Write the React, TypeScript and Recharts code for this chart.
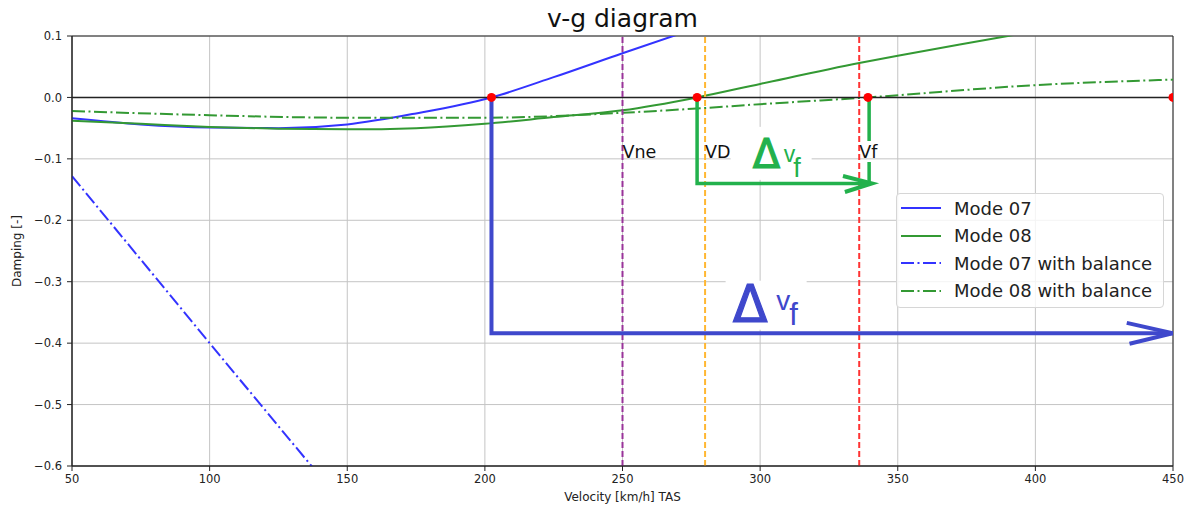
import {
  CartesianGrid,
  Line,
  LineChart,
  ReferenceArea,
  ReferenceDot,
  ReferenceLine,
  XAxis,
  YAxis,
} from "recharts";

const FONT = "'DejaVu Sans', sans-serif";
const PAINT_FONT = "'Liberation Sans', sans-serif";

// ── data ──────────────────────────────────────────────────────────────────────

const xTicks = [50, 100, 150, 200, 250, 300, 350, 400, 450];
const yTicks = [-0.6, -0.5, -0.4, -0.3, -0.2, -0.1, 0, 0.1];

const mode07X = [50, 75, 100, 125, 150, 175, 202.4, 225, 250, 275];
const mode07Y = [-0.034, -0.044, -0.049, -0.05, -0.044, -0.026, 0, 0.033, 0.072, 0.11];

const mode08X = [50, 75, 100, 125, 150, 175, 200, 225, 250, 277.1, 300, 336, 350, 390, 420];
const mode08Y = [-0.038, -0.043, -0.048, -0.051, -0.052, -0.05, -0.043, -0.032, -0.021, 0, 0.022, 0.056, 0.068, 0.1, 0.125];

const mode07BalX = [50, 100, 137, 145];
const mode07BalY = [-0.128, -0.4, -0.6, -0.645];

const mode08BalX = [50, 100, 150, 200, 250, 277, 300, 339.2, 400, 450];
const mode08BalY = [-0.022, -0.029, -0.033, -0.033, -0.025, -0.018, -0.011, 0, 0.02, 0.029];

// speed limits (km/h TAS)
const limitNames = ["Vne", "VD", "Vf"];
const limitSpeeds = [250, 280, 336];
const limitColors = ["#993399", "#ffb733", "#ff3333"];

// flutter onsets (damping = 0)
const onsetSpeeds = [202.4, 277.1, 339.2, 450];

// hand-drawn Δv_f arrows
const blueArrowX = [202.4, 202.4, 450];
const blueArrowY = [-0.005, -0.384, -0.384];
const blueHeadX = [433.2, 450, 434.2];
const blueHeadY = [-0.367, -0.384, -0.401];
const greenArrowX = [277.1, 277.1, 340];
const greenArrowY = [-0.004, -0.14, -0.14];
const greenHeadX = [330.1, 340.6, 330.8];
const greenHeadY = [-0.128, -0.14, -0.154];
const greenTickX = [339.6, 339.6, 339.6, 339.6, 339.6];
const greenTickY: (number | null)[] = [-0.004, -0.071, null, -0.105, -0.14];

const pts = (xs: number[], ys: (number | null)[]) => xs.map((x, i) => ({ x, y: ys[i] }));

const BLUE = "#3333ff";
const GREEN = "#339933";
const PAINT_BLUE = "#3f48cc";
const PAINT_GREEN = "#22b14c";

const series = [
  { name: "Mode 07", color: BLUE, dash: undefined, data: pts(mode07X, mode07Y), type: "monotone" },
  { name: "Mode 08", color: GREEN, dash: undefined, data: pts(mode08X, mode08Y), type: "monotone" },
  { name: "Mode 07 with balance", color: BLUE, dash: "13 3.5 2 3.5", data: pts(mode07BalX, mode07BalY), type: "linear" },
  { name: "Mode 08 with balance", color: GREEN, dash: "13 3.5 2 3.5", data: pts(mode08BalX, mode08BalY), type: "monotone" },
];

const yFmt = (v: number) => v.toFixed(1).replace("-", "\u2212");

// ── Δv_f annotation (label content anchored on a ReferenceDot) ────────────────

function DeltaVf(props: any) {
  const { viewBox, color, big } = props;
  const x = viewBox?.x ?? 0;
  const y = viewBox?.y ?? 0;
  const s = big
    ? { rx: -34.5, ry: -1, rw: 81, rh: 49, dx: -27.5, dy: 40, ds: 51, vx: 16, vy: 28.4, vs: 28, fx: 29, fy: 43.4, fs: 31 }
    : { rx: -29.5, ry: -32, rw: 81, rh: 53, dx: -7.5, dy: 9.5, ds: 40, vx: 23.5, vy: 3.5, vs: 23, fx: 33, fy: 18.5, fs: 27 };
  return (
    <g>
      <rect x={x + s.rx} y={y + s.ry} width={s.rw} height={s.rh} fill="#fff" />
      <text x={x + s.dx} y={y + s.dy} fontSize={s.ds} fontFamily={FONT} fill={color} stroke={color} strokeWidth={1.2}>Δ</text>
      <text x={x + s.vx} y={y + s.vy} fontSize={s.vs} fontFamily={PAINT_FONT} fill={color}>v</text>
      <text x={x + s.fx} y={y + s.fy} fontSize={s.fs} fontFamily={PAINT_FONT} fill={color}>f</text>
    </g>
  );
}

function LegendBox() {
  return (
    <div
      style={{
        position: "absolute", left: 896, top: 193, width: 268, height: 115, boxSizing: "border-box",
        border: "1px solid #d6d6d6", borderRadius: 4, background: "rgba(255,255,255,0.8)",
        fontFamily: FONT, fontSize: 18, color: "#222",
      }}
    >
      {series.map((s, i) => (
        <div key={s.name} style={{ position: "absolute", left: 0, top: 0.25 + i * 27.5, height: 27.5, width: 266, display: "flex", alignItems: "center" }}>
          <svg width={40} height={4} style={{ position: "absolute", left: 4 }}>
            <line x1={0} y1={2} x2={40} y2={2} stroke={s.color} strokeWidth={2} strokeDasharray={s.dash} />
          </svg>
          <span style={{ position: "absolute", left: 57, whiteSpace: "nowrap" }}>{s.name}</span>
        </div>
      ))}
    </div>
  );
}

export default function App() {
  return (
    <div style={{ position: "absolute", left: 0, top: 0, width: 1192, height: 510, background: "#fff" }}>
      <LineChart width={1192} height={510} margin={{ top: 36, right: 19, bottom: 0, left: 0 }}>
        <CartesianGrid stroke="#c4c4c4" strokeWidth={1} />
        <XAxis
          dataKey="x" type="number" domain={[50, 450]} ticks={xTicks} allowDataOverflow
          height={44} tickSize={5} tickMargin={4} stroke="#222"
          tick={{ fill: "#222", fontSize: 11.5, fontFamily: FONT }}
          label={{ value: "Velocity [km/h] TAS", position: "insideBottom", offset: 9, fill: "#222", fontSize: 12, fontFamily: FONT }}
        />
        <YAxis
          type="number" domain={[-0.6, 0.1]} ticks={yTicks} allowDataOverflow tickFormatter={yFmt}
          width={72} tickSize={5} tickMargin={5} stroke="#222"
          tick={{ fill: "#222", fontSize: 11.5, fontFamily: FONT }}
          label={{ value: "Damping [-]", angle: -90, position: "insideLeft", offset: 17, fill: "#222", fontSize: 12, fontFamily: FONT, style: { textAnchor: "middle" } }}
        />
        <ReferenceArea x1={50} x2={450} y1={-0.6} y2={0.1} fill="none" stroke="#222" strokeWidth={1} />

        {series.map((s) => (
          <Line
            key={s.name} data={s.data} dataKey="y" type={s.type as any} stroke={s.color} strokeWidth={2}
            strokeDasharray={s.dash} dot={false} activeDot={false} isAnimationActive={false}
          />
        ))}

        <ReferenceLine y={0} stroke="#222" strokeWidth={1.6} />
        {limitSpeeds.map((v, i) => (
          <ReferenceLine key={limitNames[i]} x={v} stroke={limitColors[i]} strokeWidth={2} strokeDasharray="6 3" />
        ))}
        {limitSpeeds.map((v, i) => (
          <ReferenceDot
            key={"lbl" + limitNames[i]} x={v} y={-0.089} r={0} stroke="none"
            label={{ value: limitNames[i], position: "right", offset: 0, fill: "#111", fontSize: 17.5, fontFamily: FONT }}
          />
        ))}
        {onsetSpeeds.map((v) => (
          <ReferenceDot key={"on" + v} x={v} y={0} r={4.5} fill="#ff0000" stroke="none" ifOverflow="hidden" />
        ))}

        <Line data={pts(blueArrowX, blueArrowY)} dataKey="y" type="linear" stroke={PAINT_BLUE} strokeWidth={4} dot={false} activeDot={false} isAnimationActive={false} strokeLinejoin="miter" />
        <Line data={pts(blueHeadX, blueHeadY)} dataKey="y" type="linear" stroke={PAINT_BLUE} strokeWidth={4} dot={false} activeDot={false} isAnimationActive={false} />
        <Line data={pts(greenArrowX, greenArrowY)} dataKey="y" type="linear" stroke={PAINT_GREEN} strokeWidth={3.5} dot={false} activeDot={false} isAnimationActive={false} strokeLinejoin="miter" />
        <Line data={pts(greenHeadX, greenHeadY)} dataKey="y" type="linear" stroke={PAINT_GREEN} strokeWidth={4} dot={false} activeDot={false} isAnimationActive={false} />
        <Line data={pts(greenTickX, greenTickY)} dataKey="y" type="linear" stroke={PAINT_GREEN} strokeWidth={3.5} dot={false} activeDot={false} isAnimationActive={false} />

        <ReferenceDot x={300} y={-0.1} r={0} stroke="none" label={<DeltaVf color={PAINT_GREEN} />} />
        <ReferenceDot x={300} y={-0.3} r={0} stroke="none" label={<DeltaVf color={PAINT_BLUE} big />} />
      </LineChart>

      <svg width={1192} height={40} style={{ position: "absolute", left: 0, top: 0, pointerEvents: "none" }}>
        <text x={622.5} y={27} textAnchor="middle" fontSize={25} fontFamily={FONT} fill="#111">v-g diagram</text>
      </svg>
      <LegendBox />
    </div>
  );
}
